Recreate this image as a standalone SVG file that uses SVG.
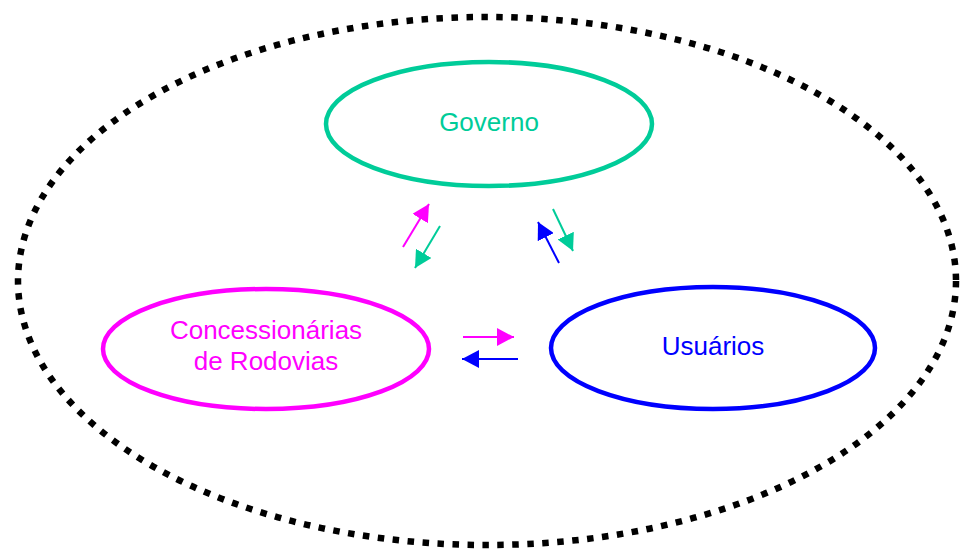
<svg xmlns="http://www.w3.org/2000/svg" width="962" height="551" viewBox="0 0 962 551">
<style>
.lbl{font-family:"Liberation Sans",Arial,sans-serif;font-size:26px;text-anchor:middle}
.node{fill:none;stroke-width:4.5}
.conn{fill:none;stroke-width:2}
</style>
<defs>
<marker id="mM" markerUnits="userSpaceOnUse" markerWidth="18" markerHeight="18" refX="17" refY="9" orient="auto"><path d="M0,0 L17,9 L0,18 Z" fill="#FF00FF"/></marker>
<marker id="mG" markerUnits="userSpaceOnUse" markerWidth="18" markerHeight="18" refX="17" refY="9" orient="auto"><path d="M0,0 L17,9 L0,18 Z" fill="#00CC99"/></marker>
<marker id="mB" markerUnits="userSpaceOnUse" markerWidth="18" markerHeight="18" refX="17" refY="9" orient="auto"><path d="M0,0 L17,9 L0,18 Z" fill="#0000FF"/></marker>
</defs>
<g id="boundary">
<ellipse cx="487" cy="281" rx="469" ry="264" fill="none" stroke="#000" stroke-width="6.5" stroke-dasharray="6.5 8.5"/>
</g>
<g id="governo">
<ellipse class="node" cx="489" cy="124" rx="163" ry="62" stroke="#00CC99"/>
<text class="lbl" x="489" y="131" fill="#00CC99">Governo</text>
</g>
<g id="concessionarias">
<ellipse class="node" cx="266" cy="349" rx="163" ry="60" stroke="#FF00FF"/>
<text class="lbl" x="266" y="339" fill="#FF00FF">Concessionárias</text>
<text class="lbl" x="266" y="370" fill="#FF00FF">de Rodovias</text>
</g>
<g id="usuarios">
<ellipse class="node" cx="713" cy="348" rx="162" ry="61" stroke="#0000FF"/>
<text class="lbl" x="713" y="355" fill="#0000FF">Usuários</text>
</g>
<g id="connectors">
<line class="conn" x1="403" y1="247" x2="429" y2="204" stroke="#FF00FF" marker-end="url(#mM)"/>
<line class="conn" x1="440" y1="226" x2="415" y2="268" stroke="#00CC99" marker-end="url(#mG)"/>
<line class="conn" x1="559" y1="263" x2="538" y2="222" stroke="#0000FF" marker-end="url(#mB)"/>
<line class="conn" x1="553" y1="209" x2="573" y2="251" stroke="#00CC99" marker-end="url(#mG)"/>
<line class="conn" x1="463" y1="337" x2="514" y2="337" stroke="#FF00FF" marker-end="url(#mM)"/>
<line class="conn" x1="518" y1="359" x2="462" y2="359" stroke="#0000FF" marker-end="url(#mB)"/>
</g>
</svg>
